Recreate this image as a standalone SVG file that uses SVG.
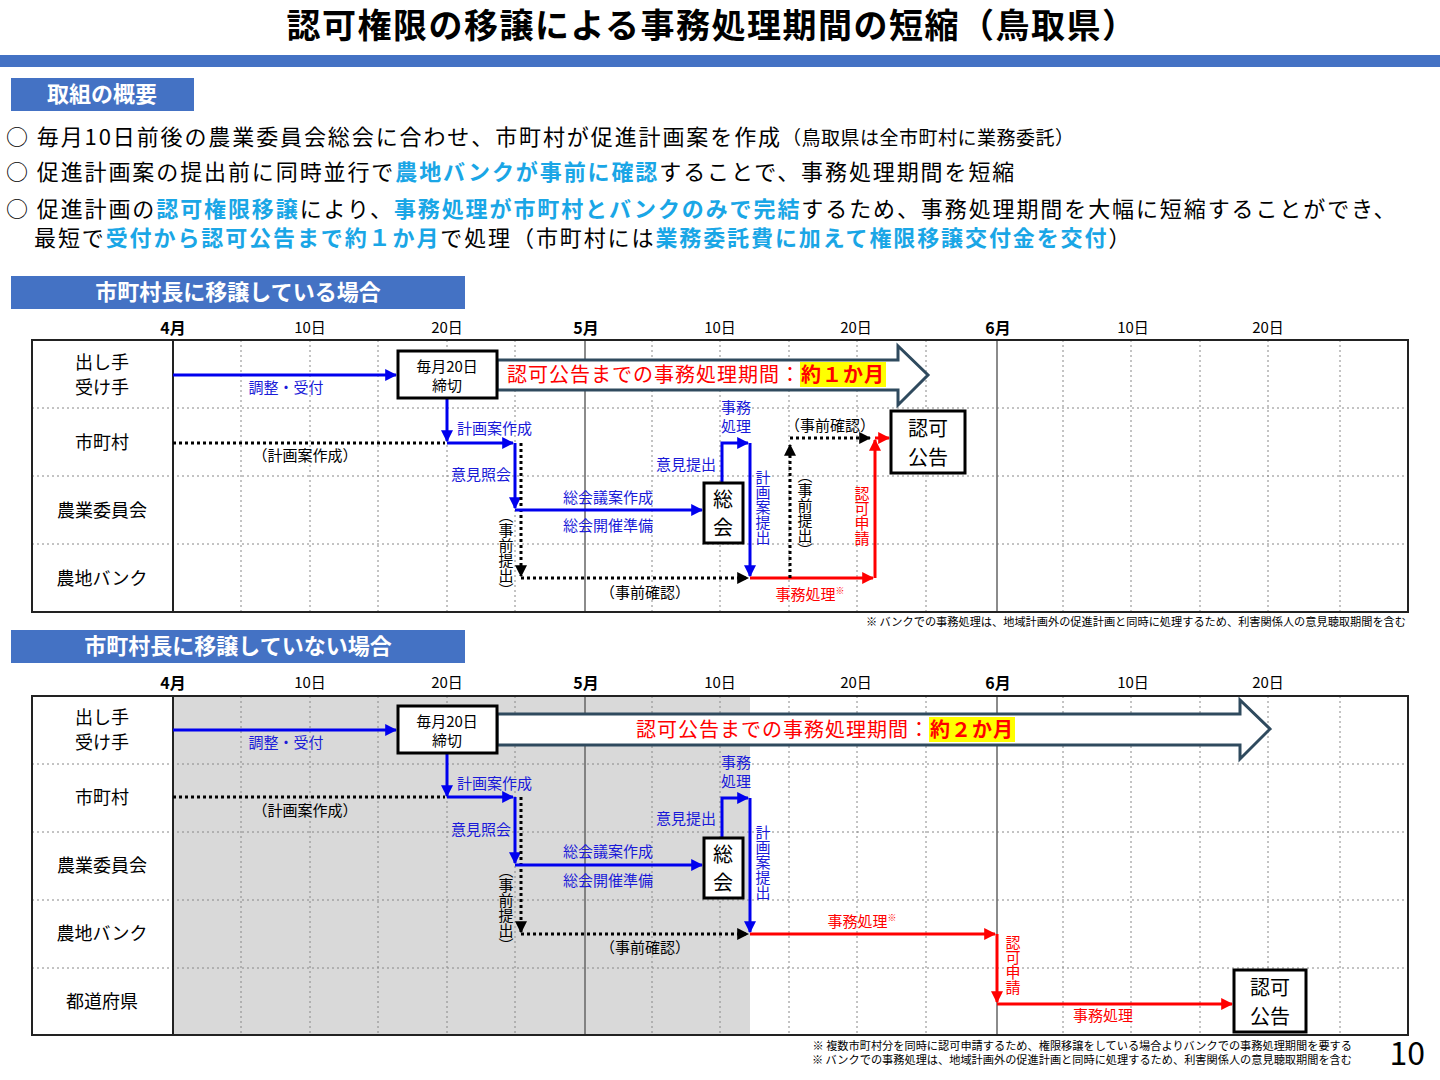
<svg xmlns="http://www.w3.org/2000/svg" width="1440" height="1080" viewBox="0 0 1440 1080">
<defs>
<style>
text{font-family:"Noto Sans CJK JP","Noto Sans",sans-serif;}
.g{stroke:#888;stroke-width:1;stroke-dasharray:2 3;fill:none}
.m{stroke:#666;stroke-width:1.5;fill:none}
.fr{fill:none;stroke:#222;stroke-width:2}
.rl{font-size:18px;fill:#000;text-anchor:middle}
.dl{font-size:15px;fill:#000;text-anchor:middle}
.ml{font-size:16px;font-weight:bold;fill:#000;text-anchor:middle}
.b{stroke:#0000ee;stroke-width:3;fill:none}
.r{stroke:#ff0000;stroke-width:3;fill:none}
.k{stroke:#000;stroke-width:3;stroke-dasharray:3 3;fill:none}
.bt{font-size:15px;fill:#1a1ad8}
.rt{font-size:15px;fill:#ff0000}
.kt{font-size:15px;fill:#000}
.vt{font-size:15px}
.box{fill:#fff;stroke:#000;stroke-width:3}
.hl{fill:#1aa6e6;font-weight:bold}
.sec{fill:#4472c4}
.st{font-size:22px;font-weight:bold;fill:#fff}
.bl{font-size:22px;fill:#000;letter-spacing:1.9px}
.fn{font-size:11.2px;text-anchor:end}
</style>
<marker id="ab" viewBox="0 0 10 10" refX="9" refY="5" markerWidth="4" markerHeight="4" orient="auto"><path d="M0,0L10,5L0,10z" fill="#0000ee"/></marker>
<marker id="ar" viewBox="0 0 10 10" refX="9" refY="5" markerWidth="4" markerHeight="4" orient="auto"><path d="M0,0L10,5L0,10z" fill="#ff0000"/></marker>
<marker id="ak" viewBox="0 0 10 10" refX="9" refY="5" markerWidth="4" markerHeight="4" orient="auto"><path d="M0,0L10,5L0,10z" fill="#000"/></marker>
</defs>
<rect width="1440" height="1080" fill="#fff"/>
<text x="712" y="38" font-size="34" font-weight="bold" letter-spacing="1.5" text-anchor="middle">認可権限の移譲による事務処理期間の短縮（鳥取県）</text>
<rect x="0" y="55" width="1440" height="12" fill="#4472c4"/>
<rect x="11" y="78" width="183" height="33" class="sec"/>
<text x="102" y="102" class="st" text-anchor="middle">取組の概要</text>
<text x="6" y="145" class="bl">○ 毎月10日前後の農業委員会総会に合わせ、市町村が促進計画案を作成<tspan font-size="19" letter-spacing="0.5">（鳥取県は全市町村に業務委託）</tspan></text>
<text x="6" y="180" class="bl">○ 促進計画案の提出前に同時並行で<tspan class="hl">農地バンクが事前に確認</tspan>することで、事務処理期間を短縮</text>
<text x="6" y="217" class="bl">○ 促進計画の<tspan class="hl">認可権限移譲</tspan>により、<tspan class="hl">事務処理が市町村とバンクのみで完結</tspan>するため、事務処理期間を大幅に短縮することができ、</text>
<text x="34" y="246" class="bl">最短で<tspan class="hl">受付から認可公告まで約１か月</tspan>で処理（市町村には<tspan class="hl">業務委託費に加えて権限移譲交付金を交付</tspan>）</text>

<!-- Section 1 -->
<rect x="11" y="276" width="454" height="33" class="sec"/>
<text x="238" y="300" class="st" text-anchor="middle">市町村長に移譲している場合</text>
<g id="grid1">
<text x="173" y="334" class="ml">4月</text><text x="310" y="333" class="dl">10日</text><text x="447" y="333" class="dl">20日</text>
<text x="586" y="334" class="ml">5月</text><text x="720" y="333" class="dl">10日</text><text x="856" y="333" class="dl">20日</text>
<text x="998" y="334" class="ml">6月</text><text x="1133" y="333" class="dl">10日</text><text x="1268" y="333" class="dl">20日</text>
<path class="g" d="M241,340V612M310,340V612M378,340V612M447,340V612M515,340V612M652,340V612M720,340V612M789,340V612M857,340V612M926,340V612M1063,340V612M1131,340V612M1200,340V612M1268,340V612M1340,340V612M32,408H1408M32,476H1408M32,544H1408"/>
<path class="m" d="M585,340V612M997,340V612"/>
<rect x="32" y="340" width="1376" height="272" class="fr"/>
<path d="M173,340V612" stroke="#222" stroke-width="2"/>
<text x="102" y="369" class="rl">出し手</text><text x="102" y="394" class="rl">受け手</text>
<text x="102" y="449" class="rl">市町村</text><text x="102" y="517" class="rl">農業委員会</text><text x="102" y="585" class="rl">農地バンク</text>
</g>
<g id="arrow1"><path d="M497,360H898V346L928,375L898,405V390H497Z" fill="#fff" stroke="#2f4a5e" stroke-width="3"/>
<rect x="800" y="362" width="86" height="25" fill="#ffff00"/>
<text x="507" y="382" font-size="20" letter-spacing="1" fill="#ff0000">認可公告までの事務処理期間：<tspan font-weight="bold">約１か月</tspan></text></g>
<g id="connectors1">
<path class="b" d="M173,375H396" marker-end="url(#ab)"/>
<path class="b" d="M447,398V441" marker-end="url(#ab)"/>
<path class="k" d="M173,443H445"/>
<path class="b" d="M447,443H513" marker-end="url(#ab)"/>
<path class="b" d="M515,443V508" marker-end="url(#ab)"/>
<path class="k" d="M521,443V576" marker-end="url(#ak)"/>
<path class="b" d="M515,510H702" marker-end="url(#ab)"/>
<path class="b" d="M722,483V443H748" marker-end="url(#ab)"/>
<path class="b" d="M750,443V576" marker-end="url(#ab)"/>
<path class="k" d="M521,578H748" marker-end="url(#ak)"/>
<path class="r" d="M750,578H873" marker-end="url(#ar)"/>
<path class="k" d="M790,578V445" marker-end="url(#ak)"/>
<path class="k" d="M790,438H870" marker-end="url(#ak)"/>
<path class="r" d="M875,578V440" marker-end="url(#ar)"/>
<path class="r" d="M875,438H889" marker-end="url(#ar)"/>
</g>
<g id="labels1">
<text x="286" y="393" class="bt" text-anchor="middle">調整・受付</text>
<text x="457" y="434" class="bt">計画案作成</text>
<text x="305" y="461" class="kt" text-anchor="middle">（計画案作成）</text>
<text x="481" y="480" class="bt" text-anchor="middle">意見照会</text>
<text x="608" y="503" class="bt" text-anchor="middle">総会議案作成</text>
<text x="608" y="531" class="bt" text-anchor="middle">総会開催準備</text>
<text x="686" y="470" class="bt" text-anchor="middle">意見提出</text>
<text x="736" y="413" class="bt" text-anchor="middle">事務</text><text x="736" y="432" class="bt" text-anchor="middle">処理</text>
<text x="763" y="470" class="bt vt" writing-mode="vertical-rl">計画案提出</text>
<text x="506" y="508" class="kt vt" writing-mode="vertical-rl">（事前提出）</text>
<text x="645" y="598" class="kt" text-anchor="middle">（事前確認）</text>
<text x="810" y="600" class="rt" text-anchor="middle">事務処理<tspan font-size="9" dy="-6">※</tspan></text>
<text x="830" y="431" class="kt" text-anchor="middle">（事前確認）</text>
<text x="805" y="468" class="kt vt" writing-mode="vertical-rl">（事前提出）</text>
<text x="862" y="486" class="rt vt" writing-mode="vertical-rl">認可申請</text>
</g>
<g id="n-deadline1"><rect x="398" y="351" width="99" height="47" class="box"/><text x="447" y="372" class="kt" text-anchor="middle">毎月20日</text><text x="447" y="391" class="kt" text-anchor="middle">締切</text></g>
<g id="n-soukai1"><rect x="704" y="483" width="39" height="60" class="box"/><text x="723" y="507" font-size="20" text-anchor="middle">総</text><text x="723" y="535" font-size="20" text-anchor="middle">会</text></g>
<g id="n-kokoku1"><rect x="891" y="411" width="74" height="62" class="box"/><text x="928" y="436" font-size="20" text-anchor="middle">認可</text><text x="928" y="465" font-size="20" text-anchor="middle">公告</text></g>
<text x="1406" y="626" class="fn">※ バンクでの事務処理は、地域計画外の促進計画と同時に処理するため、利害関係人の意見聴取期間を含む</text>

<!-- Section 2 -->
<rect x="11" y="630" width="454" height="33" class="sec"/>
<text x="238" y="654" class="st" text-anchor="middle">市町村長に移譲していない場合</text>
<g id="grid2">
<rect x="173" y="696" width="577" height="339" fill="#d9d9d9"/>
<text x="173" y="689" class="ml">4月</text><text x="310" y="688" class="dl">10日</text><text x="447" y="688" class="dl">20日</text>
<text x="586" y="689" class="ml">5月</text><text x="720" y="688" class="dl">10日</text><text x="856" y="688" class="dl">20日</text>
<text x="998" y="689" class="ml">6月</text><text x="1133" y="688" class="dl">10日</text><text x="1268" y="688" class="dl">20日</text>
<path class="g" d="M241,696V1035M310,696V1035M378,696V1035M447,696V1035M515,696V1035M652,696V1035M720,696V1035M789,696V1035M857,696V1035M926,696V1035M1063,696V1035M1131,696V1035M1200,696V1035M1268,696V1035M1340,696V1035M32,764H1408M32,832H1408M32,900H1408M32,968H1408"/>
<path class="m" d="M585,696V1035M997,696V1035"/>
<rect x="32" y="696" width="1376" height="339" class="fr"/>
<path d="M173,696V1035" stroke="#222" stroke-width="2"/>
<text x="102" y="724" class="rl">出し手</text><text x="102" y="749" class="rl">受け手</text>
<text x="102" y="804" class="rl">市町村</text><text x="102" y="872" class="rl">農業委員会</text><text x="102" y="940" class="rl">農地バンク</text><text x="102" y="1008" class="rl">都道府県</text>
</g>
<g id="arrow2"><path d="M497,714H1240V700L1270,729L1240,759V745H497Z" fill="#fff" stroke="#2f4a5e" stroke-width="3"/>
<rect x="929" y="717" width="86" height="25" fill="#ffff00"/>
<text x="636" y="737" font-size="20" letter-spacing="1" fill="#ff0000">認可公告までの事務処理期間：<tspan font-weight="bold">約２か月</tspan></text></g>
<g id="connectors2">
<path class="b" d="M173,730H396" marker-end="url(#ab)"/>
<path class="b" d="M447,753V796" marker-end="url(#ab)"/>
<path class="k" d="M173,797H445"/>
<path class="b" d="M447,797H513" marker-end="url(#ab)"/>
<path class="b" d="M515,797V863" marker-end="url(#ab)"/>
<path class="k" d="M521,797V932" marker-end="url(#ak)"/>
<path class="b" d="M515,865H702" marker-end="url(#ab)"/>
<path class="b" d="M722,838V798H748" marker-end="url(#ab)"/>
<path class="b" d="M750,798V932" marker-end="url(#ab)"/>
<path class="k" d="M521,934H748" marker-end="url(#ak)"/>
<path class="r" d="M750,934H995" marker-end="url(#ar)"/>
<path class="r" d="M997,934V1002" marker-end="url(#ar)"/>
<path class="r" d="M997,1004H1232" marker-end="url(#ar)"/>
</g>
<g id="labels2">
<text x="286" y="748" class="bt" text-anchor="middle">調整・受付</text>
<text x="457" y="789" class="bt">計画案作成</text>
<text x="305" y="816" class="kt" text-anchor="middle">（計画案作成）</text>
<text x="481" y="835" class="bt" text-anchor="middle">意見照会</text>
<text x="608" y="857" class="bt" text-anchor="middle">総会議案作成</text>
<text x="608" y="886" class="bt" text-anchor="middle">総会開催準備</text>
<text x="686" y="824" class="bt" text-anchor="middle">意見提出</text>
<text x="736" y="768" class="bt" text-anchor="middle">事務</text><text x="736" y="787" class="bt" text-anchor="middle">処理</text>
<text x="763" y="825" class="bt vt" writing-mode="vertical-rl">計画案提出</text>
<text x="506" y="863" class="kt vt" writing-mode="vertical-rl">（事前提出）</text>
<text x="645" y="953" class="kt" text-anchor="middle">（事前確認）</text>
<text x="862" y="927" class="rt" text-anchor="middle">事務処理<tspan font-size="9" dy="-6">※</tspan></text>
<text x="1013" y="935" class="rt vt" writing-mode="vertical-rl">認可申請</text>
<text x="1103" y="1021" class="rt" text-anchor="middle">事務処理</text>
</g>
<g id="n-deadline2"><rect x="398" y="706" width="99" height="47" class="box"/><text x="447" y="727" class="kt" text-anchor="middle">毎月20日</text><text x="447" y="746" class="kt" text-anchor="middle">締切</text></g>
<g id="n-soukai2"><rect x="704" y="838" width="39" height="60" class="box"/><text x="723" y="862" font-size="20" text-anchor="middle">総</text><text x="723" y="890" font-size="20" text-anchor="middle">会</text></g>
<g id="n-kokoku2"><rect x="1234" y="970" width="72" height="62" class="box"/><text x="1270" y="995" font-size="20" text-anchor="middle">認可</text><text x="1270" y="1024" font-size="20" text-anchor="middle">公告</text></g>
<text x="1352" y="1050" class="fn">※ 複数市町村分を同時に認可申請するため、権限移譲をしている場合よりバンクでの事務処理期間を要する</text>
<text x="1352" y="1064" class="fn">※ バンクでの事務処理は、地域計画外の促進計画と同時に処理するため、利害関係人の意見聴取期間を含む</text>
<text x="1425" y="1065" font-size="32" text-anchor="end">10</text>
</svg>
